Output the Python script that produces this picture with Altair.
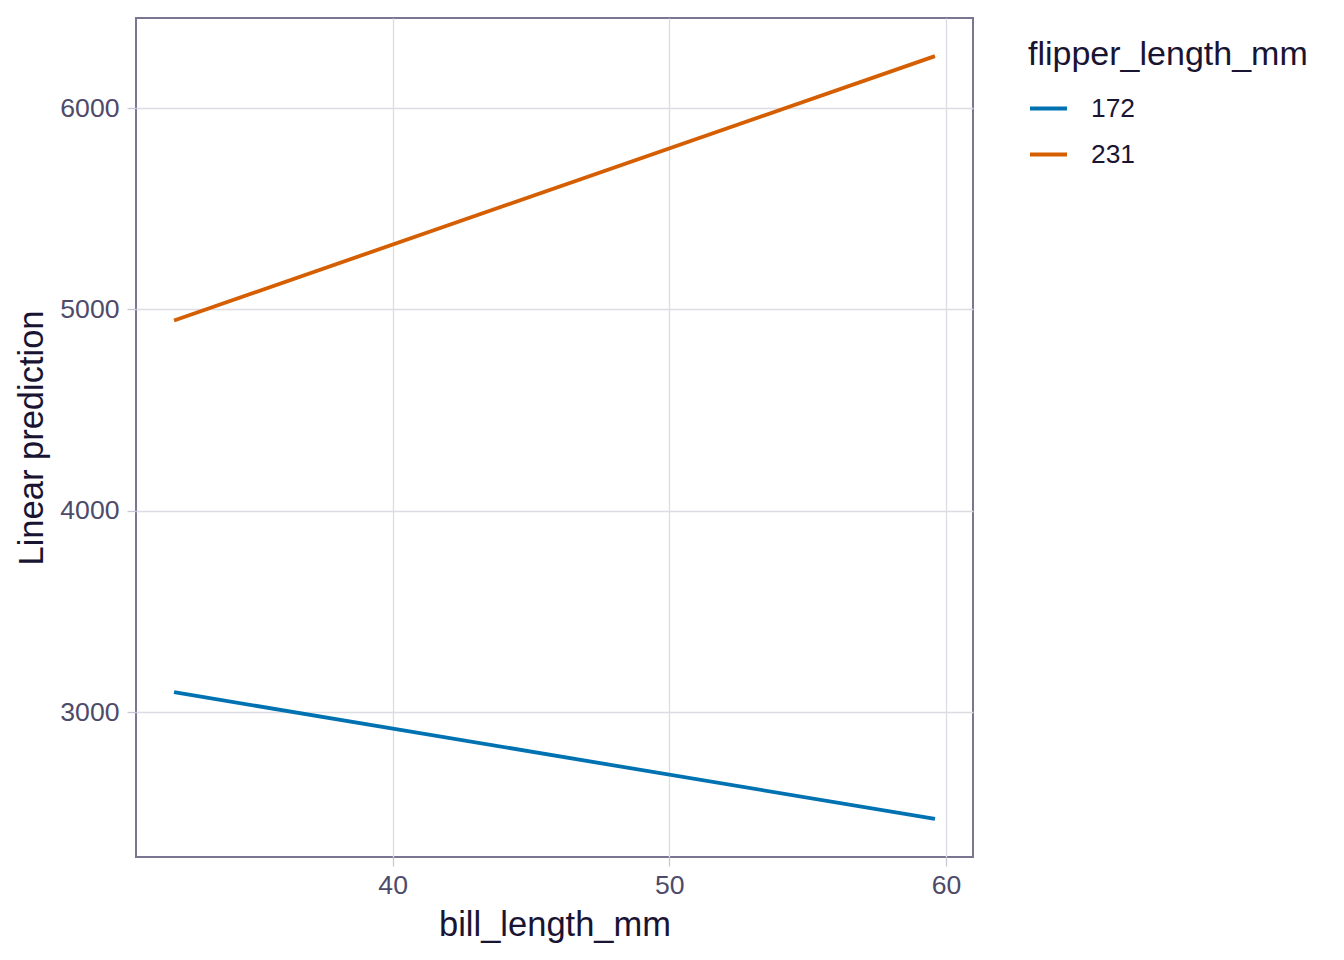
import altair as alt
import pandas as pd

bill_length = [32.1, 59.6, 32.1, 59.6]
flipper = ["172", "172", "231", "231"]
prediction = [3099, 2470, 4945, 6258]

df = pd.DataFrame({"bill_length_mm": bill_length, "flipper_length_mm": flipper, "pred": prediction})

FONT = "Liberation Sans"
TITLE_C = "#1a1433"
LABEL_C = "#4e4a6a"

chart = alt.Chart(df).mark_line(strokeWidth=3.8).encode(
    x=alt.X("bill_length_mm:Q", title="bill_length_mm",
            scale=alt.Scale(domain=[30.725, 60.975], nice=False, zero=False),
            axis=alt.Axis(values=[40, 50, 60], format="d", titleBaseline="alphabetic", titleY=78,
                          titleAnchor="middle")),
    y=alt.Y("pred:Q", title="Linear prediction",
            scale=alt.Scale(domain=[2280.6, 6447.4], nice=False, zero=False),
            axis=alt.Axis(values=[3000, 4000, 5000, 6000], format="d", titleBaseline="alphabetic",
                          titleX=-94, titleY=419.5, titleAngle=-90, titleAlign="center",
                          labelPadding=8)),
    color=alt.Color("flipper_length_mm:N", title="flipper_length_mm",
                    scale=alt.Scale(domain=["172", "231"], range=["#0072B2", "#D55E00"]),
                    legend=alt.Legend(orient="none", legendX=892, legendY=20,
                                      symbolType="stroke", symbolSize=1369, symbolStrokeWidth=3.8,
                                      labelOffset=22, rowPadding=12, titlePadding=16,
                                      titleLimit=0, labelLimit=0)),
).properties(
    width=837, height=839,
    autosize=alt.AutoSizeParams(type="none"),
    padding={"left": 128, "top": 10, "right": 350, "bottom": 92},
).configure_view(
    stroke="#7b7592", strokeWidth=2
).configure_axis(
    labelFont=FONT, titleFont=FONT, labelFontSize=26.6, titleFontSize=34.5,
    labelColor=LABEL_C, titleColor=TITLE_C, titleFontWeight="normal",
    grid=True, gridColor="#dcdce2", gridWidth=1.3,
    domain=False, tickColor="#c8c6d2", tickSize=9, tickWidth=1.3,
    labelPadding=6,
).configure_legend(
    labelFont=FONT, titleFont=FONT, labelFontSize=26.4, titleFontSize=34,
    labelColor=TITLE_C, titleColor=TITLE_C, titleFontWeight="normal",
)

chart.save("out.html", embed_options={"renderer": "svg", "actions": False})
